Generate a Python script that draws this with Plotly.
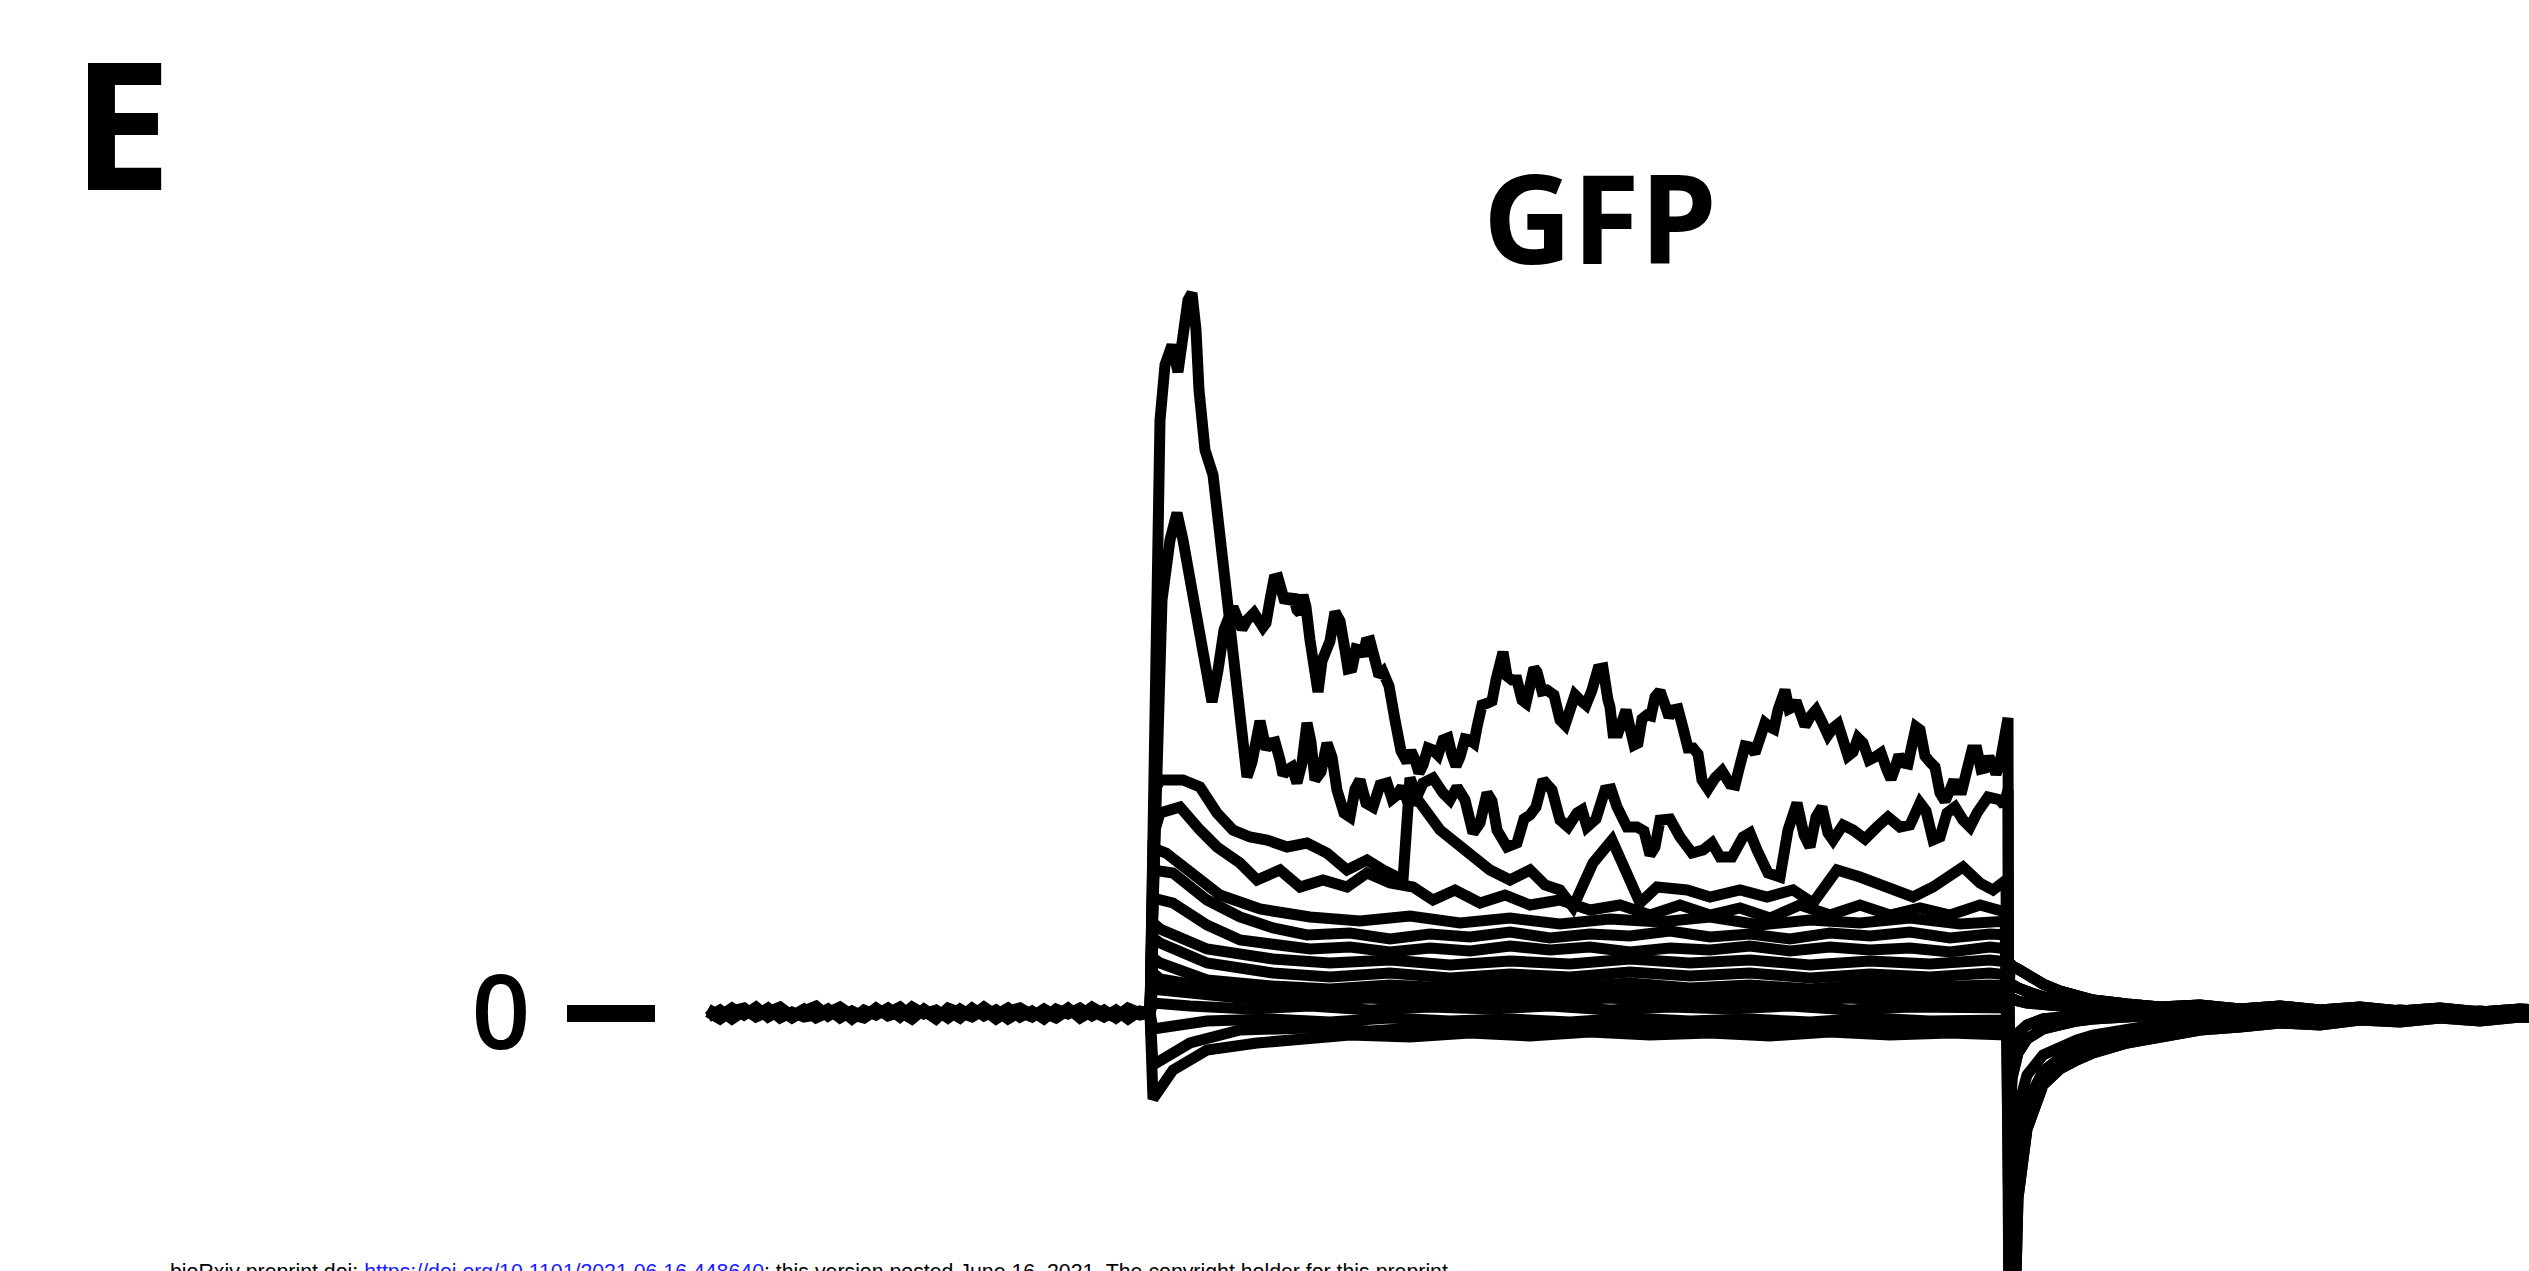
import plotly.graph_objects as go

# ---------------- data (time in ms from step onset, current in pA) ----------------
base_t = [-221, -215, -209, -203, -197, -191, -185, -179, -173, -167, -161, -155, -149,
          -143, -137, -131, -125, -119, -113, -107, -101, -95, -89, -83, -77, -71, -65,
          -59, -53, -47, -41, -35, -29, -23, -17, -11, -5, 0]
base_a = [4, -3, 5, -2, 6, -4, 3, -5, 2, 7, -3, 4, -6, 3, -2, 5, -4, 6, -1, 3, -5, 4, -3,
          6, -2, 5, -4, 2, -6, 4, -1, 5, -3, 3, -5, 4, -2, 0]
base_b = [-4, 3, -6, 2, -3, 5, -5, 1, -4, -2, 4, -5, 2, -4, 5, -3, 1, -6, 4, -4, 2, -5, 5,
          -3, 3, -6, 1, -4, 4, -3, 5, -5, 2, -4, 3, -6, 2, 0]
base_c = [1, -6, 2, 5, -4, 0, 6, -3, 4, -5, 1, 6, -2, -5, 3, 0, 6, -4, 2, -6, 5, 1, -4, 3,
          -6, 2, 5, -2, 0, -5, 3, -3, 6, -1, -4, 5, 0, 0]

t1_t = [0, 3, 5, 7.5, 11, 14, 16.5, 19, 21, 23, 24.5, 27.5, 31.5, 34, 37,
        39.5, 41.5, 44, 46, 48.5, 52, 56.5, 58, 60, 62, 64, 67, 70, 71.5, 73.5, 75, 76.5,
        78, 80, 82, 84, 86, 88, 90, 92.5, 95, 97.5, 99, 101, 103, 105, 106.5, 108, 110,
        112.5, 114.5, 116.5, 119.5, 122.5, 125.5, 128.5, 130.5, 132.5, 134.5, 136.5, 139,
        141.5, 144, 146.5, 149, 151, 153, 155, 157.5, 160, 162, 163.5, 166, 169, 171, 173,
        175, 176.5, 178.5, 181, 183.5, 186, 188, 190, 192, 193.5, 196, 198.5, 202, 205,
        207.5, 210, 212.5, 215, 218, 221, 224, 226.5, 227.5, 229, 230, 231.5, 234, 236.5,
        238, 240, 242, 244, 246, 248.5, 250.5, 252.5, 255, 257.5, 259.5, 261.5, 264, 266.5,
        269, 271.5, 274, 276, 279, 282.5, 286, 290, 292.5, 295, 297.5, 300, 302.5, 305,
        307.5, 310, 312, 314, 316, 317.5, 319.5, 321.5, 323, 325, 327.5, 330, 333, 336,
        339, 341.5, 344, 346.5, 349, 351.5, 354, 356.5, 359.5, 362.5, 365.5, 368.5, 370.5,
        372.5, 374.5, 376.5, 379, 381, 383, 385, 387.5, 390, 392.5, 395, 397.5, 400, 402,
        403.5, 406, 408.5, 411, 413.5, 415.5, 417.5, 419.5, 421.5, 423, 425, 426.5, 427.5,
        429]
t1_i = [0, 313, 593, 648, 668, 641, 683, 713, 720, 683, 623, 563, 538, 493, 433,
        398, 406, 395, 384, 393, 400, 386, 390, 413, 434, 435, 414, 413, 418, 403, 400, 418,
        406, 373, 337, 321, 352, 363, 372, 401, 392, 363, 344, 345, 364, 363, 357, 371, 372,
        353, 337, 341, 327, 293, 262, 251, 262, 253, 240, 248, 265,
        263, 258, 273, 275, 258, 247, 256, 274, 273, 270, 286, 308, 310, 312, 333,
        357, 361, 337, 333, 333, 313, 310, 328, 345, 341, 322, 323, 318, 293,
        288, 303, 318, 313, 308, 323, 344, 345, 319, 313, 306, 280, 280, 301,
        303, 285, 268, 270, 294, 298, 297, 316, 322, 308, 296, 303, 304, 285,
        265, 265, 259, 233, 224, 235, 242, 229, 228, 248, 267, 266, 260, 275,
        290, 286, 284, 303, 318, 323, 304, 306, 312, 298, 287, 296, 303, 291,
        278, 285, 289, 273, 257, 261, 275, 270, 253, 256, 260, 243, 234,
        245, 258, 250, 249, 268, 286, 283, 257, 251, 246, 220, 212, 223, 233,
        223, 223, 243, 263, 263, 244, 245, 256, 248, 239, 250, 269, 268,
        295]

t2_t = [0, 3, 6, 10, 13.5, 16.5, 20, 23, 27, 31, 34, 37, 39.5, 43, 46.5,
        48.5, 51, 53.5, 55, 56.5, 58, 60, 62.5, 65, 66.5, 68.5, 71, 73.5, 76, 78.5, 80.5,
        82.5, 85.5, 88.5, 91, 93.5, 97, 100, 102.5, 105, 108, 111.5, 115, 118.5, 121, 123.5,
        126, 128.5, 132.5, 136.5, 141.5, 146.5, 150, 153.5, 157.5, 161.5, 165, 168.5, 171,
        173.5, 178.5, 183.5, 187, 190, 193, 196.5, 201, 205, 209, 213.5, 216, 218.5, 223,
        227.5, 230.5, 233.5, 238.5, 243.5, 247, 250, 252.5, 255, 260, 265, 271, 276.5, 281,
        285, 291, 296.5, 300, 303.5, 309, 315, 319, 323.5, 327, 330, 333, 336, 339, 341.5,
        346.5, 351.5, 357.5, 363.5, 369, 375, 380, 385, 388, 391.5, 395, 398.5, 402.5,
        406.5, 410, 413.5, 419, 425, 427, 429]
t2_i = [0, 213, 413, 473, 500, 473, 433, 393, 343, 311, 343, 383, 396, 323, 253,
        236, 251, 286, 292, 278, 264, 270, 271, 253, 238, 243, 246, 230, 250, 290, 271,
        233, 241, 270, 256, 223, 200, 196, 224, 233, 210, 206, 228, 230, 214, 218,
        226, 213, 212, 230, 235, 220, 213, 226, 213, 180, 190, 220, 212,
        183, 166, 170, 194, 198, 206, 233, 223, 193, 186, 200, 203, 186, 194,
        223, 224, 206, 186, 186, 182, 158, 166, 193, 194, 176, 160, 163, 170,
        156, 156, 176, 180, 163, 140, 136, 183, 210, 178, 166, 196, 206, 180, 173,
        188, 183, 174, 186, 196, 186, 188, 210, 202, 173, 176, 200, 206,
        193, 186, 200, 216, 213, 208, 223]

t3_t = [0, 2.5, 5, 16.5, 25, 33.5, 41.5, 50, 58.5, 68.5, 78.5, 88.5, 98.5, 108.5, 116.5,
        126.5, 130, 134, 145, 160, 170, 180, 190, 197.5, 205, 211.5, 221.5, 231, 238.5,
        245, 253.5, 268.5, 280, 295, 308.5, 321.5, 331.5, 343.5, 355, 368.5, 381.5, 391.5,
        406.5, 415, 421.5, 428]
t3_i = [0, 223, 233, 233, 226, 200, 183, 176, 173, 166, 170, 160, 143, 153, 143, 133, 235,
        213, 183, 158, 143, 133, 143, 128, 123, 106, 150, 173, 140, 110, 126, 123, 116,
        123, 116, 123, 110, 143, 136, 126, 116, 126, 146, 130, 123, 133]

t4_t = [0, 2.5, 5, 15, 25, 33.5, 45, 53.5, 65, 75, 86.5, 98.5, 108.5, 120, 131.5, 141.5,
        152.5, 165, 177.5, 190, 205, 220, 235, 250, 265, 280, 295, 310, 325, 340, 355,
        370, 385, 400, 415, 427.5]
t4_i = [0, 183, 200, 206, 183, 166, 150, 133, 143, 126, 133, 126, 140, 130, 126, 113, 123,
        110, 118, 108, 113, 103, 108, 98, 108, 98, 105, 95, 108, 98, 108, 98, 105, 98,
        108, 101]

b8_t = [0, 1.5, 8, 20, 35, 55, 80, 105, 130, 155, 180, 205, 230, 255, 280, 305, 330, 355,
        380, 405, 429]
b8_i = [0, 165, 160, 140, 118, 104, 96, 92, 97, 90, 95, 89, 94, 91, 96, 88, 93, 90, 95,
        89, 92]

b1_t = [0, 1.5, 11.5, 28.5, 45, 61.5, 78.5, 100, 120, 140, 160, 180, 200, 220, 240, 260,
        280, 300, 320, 340, 360, 380, 400, 420, 429]
b1_i = [0, 143, 140, 113, 96, 85, 78, 80, 74, 79, 76, 81, 75, 79, 77, 82, 76, 79, 74, 80,
        77, 81, 75, 79, 78]

b2_t = [0, 1.5, 11.5, 28.5, 45, 61.5, 80, 100, 120, 140, 160, 180, 200, 220, 240, 260,
        280, 300, 320, 340, 360, 380, 400, 420, 429]
b2_i = [0, 115, 110, 88, 73, 68, 64, 66, 61, 65, 62, 67, 63, 66, 61, 65, 63, 67, 62, 66,
        63, 65, 61, 66, 64]

b7_t = [0, 1.5, 5, 28.5, 61.5, 90, 120, 150, 180, 210, 240, 270, 300, 330, 360, 390, 420, 429]
b7_i = [0, 90, 84, 64, 54, 50, 53, 48, 52, 49, 54, 50, 53, 48, 52, 49, 53, 51]

b3_t = [0, 1.5, 5, 28.5, 61.5, 90, 120, 150, 180, 210, 240, 270, 300, 330, 360, 390, 420, 429]
b3_i = [0, 75, 70, 50, 40, 36, 40, 35, 39, 36, 41, 37, 40, 35, 39, 36, 40, 38]

b4_t = [0, 1.5, 5, 28.5, 61.5, 90, 120, 150, 180, 210, 240, 270, 300, 330, 360, 390, 420, 429]
b4_i = [0, 55, 50, 33, 27, 24, 28, 25, 29, 26, 30, 25, 28, 24, 29, 26, 28, 27]

b9_t = [0, 1.5, 5, 40, 75, 105, 135, 165, 195, 225, 255, 285, 315, 345, 375, 405, 429]
b9_i = [0, 40, 34, 22, 20, 23, 19, 22, 18, 21, 19, 23, 19, 22, 18, 21, 20]

b5_t = [0, 1.5, 5, 45, 80, 110, 140, 170, 200, 230, 260, 290, 320, 350, 380, 410, 429]
b5_i = [0, 28, 23, 15, 12, 15, 11, 14, 12, 15, 11, 14, 12, 15, 11, 14, 12]

b6_t = [0, 1.5, 20, 50, 80, 110, 140, 170, 200, 230, 260, 290, 320, 350, 380, 410, 429]
b6_i = [0, 10, 7, 4, 7, 3, 6, 4, 7, 3, 6, 4, 7, 3, 6, 4, 5]

n1_t = [0, 1.5, 28.5, 60, 90, 120, 150, 180, 210, 240, 270, 300, 330, 360, 390, 420, 429]
n1_i = [0, -16, -8, -6, -9, -5, -8, -6, -9, -5, -8, -6, -9, -5, -8, -6, -7]

n2_t = [0, 1.5, 20, 45, 80, 110, 140, 170, 200, 230, 260, 290, 320, 350, 380, 410, 429]
n2_i = [0, -52, -30, -17, -15, -18, -14, -17, -13, -16, -14, -17, -13, -16, -14, -17, -15]

n3_t = [0, 1.5, 11.5, 28.5, 53.5, 78.5, 100, 130, 160, 190, 220, 250, 280, 310, 340, 370,
        400, 429]
n3_i = [0, -86, -57, -37, -30, -25, -22, -24, -20, -23, -19, -22, -20, -23, -19, -22, -20, -22]

tail_t = [430, 431, 434, 438.5, 446.5, 455, 463.5, 471.5, 488.5, 505, 525, 545, 565, 585,
          605, 625, 645, 665, 685, 700]
tail_deep = [-700, -420, -185, -116, -72, -56, -47, -40, -30, -23, -17, -14, -10, -12, -7,
             -9, -5, -8, -4, -6]
tail_mid2 = [-450, -260, -140, -90, -58, -45, -37, -30, -22, -16, -11, -12, -8, -9, -5, -7,
             -4, -6, -3, -5]
tail_mid = [-300, -160, -95, -62, -42, -33, -27, -22, -16, -11, -7, -9, -5, -7, -3, -6, -2,
            -5, -3, -4]
tail_small2 = [-110, -65, -40, -26, -16, -11, -8, -6, -3, -2, 0, -3, 1, -2, 0, -4, 1, -2, 0, -3]
tail_small = [-60, -35, -20, -12, -6, -4, -2, -1, 1, 0, 2, -1, 1, -2, 2, 0, 3, -1, 1, 0]
tail_up3 = [15, 14, 12, 10, 8, 6, 5, 4, 2, 3, 1, 4, 0, 2, -1, 3, 0, 2, -2, 1]
tail_up2 = [30, 28, 25, 21, 16, 12, 9, 7, 5, 3, 5, 2, 4, 1, 3, 0, 3, -1, 2, 1]
tail_up = [50, 47, 44, 38, 29, 22, 17, 13, 9, 6, 8, 4, 7, 3, 6, 2, 5, 1, 4, 2]

zero_tick = [0]
zero_label = ["0"]
panel_label = "E"
title_text = "GFP"
footer_text = ("bioRxiv preprint doi: <span style='color:#1a1aff'>"
               "https://doi.org/10.1101/2021.06.16.448640</span>; this version posted "
               "June 16, 2021. The copyright holder for this preprint")

# ---------------- figure ----------------
fig = go.Figure()

for bi in (base_a, base_b, base_c):
    fig.add_trace(go.Scatter(x=base_t, y=bi, mode="lines",
                             line=dict(color="black", width=11),
                             hoverinfo="skip", showlegend=False))

sweeps = [
    (t1_t, t1_i, tail_deep, 11), (t2_t, t2_i, tail_deep, 11),
    (t3_t, t3_i, tail_mid2, 11), (t4_t, t4_i, tail_mid, 11),
    (b8_t, b8_i, tail_small2, 11), (b1_t, b1_i, tail_small2, 11),
    (b2_t, b2_i, tail_small, 11), (b7_t, b7_i, tail_small, 11),
    (b3_t, b3_i, tail_up3, 11), (b4_t, b4_i, tail_up3, 11),
    (b9_t, b9_i, tail_up2, 11),
    (b5_t, b5_i, tail_up2, 11), (b6_t, b6_i, tail_up2, 11),
    (n1_t, n1_i, tail_up, 11), (n2_t, n2_i, tail_up, 11), (n3_t, n3_i, tail_up, 11),
]
for st, si, tl, w in sweeps:
    fig.add_trace(go.Scatter(x=list(st) + tail_t, y=list(si) + tl, mode="lines",
                             line=dict(color="black", width=w),
                             hoverinfo="skip", showlegend=False))

L = 656
W, H = 2529, 1271
fig.update_layout(
    width=W, height=H,
    margin=dict(l=L, r=0, t=0, b=0, pad=0),
    paper_bgcolor="white", plot_bgcolor="white",
    title=dict(text=title_text, x=1600 / W, xref="container", xanchor="center",
               y=1 - 221 / H, yref="container", yanchor="middle",
               font=dict(family="Open Sans", size=123, color="black", weight=700)),
    xaxis=dict(range=[-247, 689.5], visible=False, fixedrange=True),
    yaxis=dict(range=[-258, 1013], showgrid=False, zeroline=False, showline=False,
               tickmode="array", tickvals=zero_tick, ticktext=zero_label,
               ticks="outside", ticklen=88, tickwidth=17, tickcolor="black",
               ticklabelstandoff=16,
               tickfont=dict(family="Open Sans", size=103, color="black", weight=600),
               fixedrange=True),
    annotations=[
        dict(text=panel_label, xref="paper", yref="paper",
             x=(122 - L) / (W - L), y=1 - 121 / H, xanchor="center", yanchor="middle",
             showarrow=False,
             font=dict(family="Open Sans", size=178, color="black", weight=700)),
        dict(text=footer_text, xref="paper", yref="paper",
             x=(168 - L) / (W - L), y=1 - 1258 / H, xanchor="left", yanchor="top",
             showarrow=False,
             font=dict(family="Liberation Sans", size=21.3, color="black")),
    ],
)

fig.write_html("out.html", config={"displayModeBar": False, "responsive": False},
               post_script="document.body.style.margin='0';document.body.style.overflow='hidden';")
